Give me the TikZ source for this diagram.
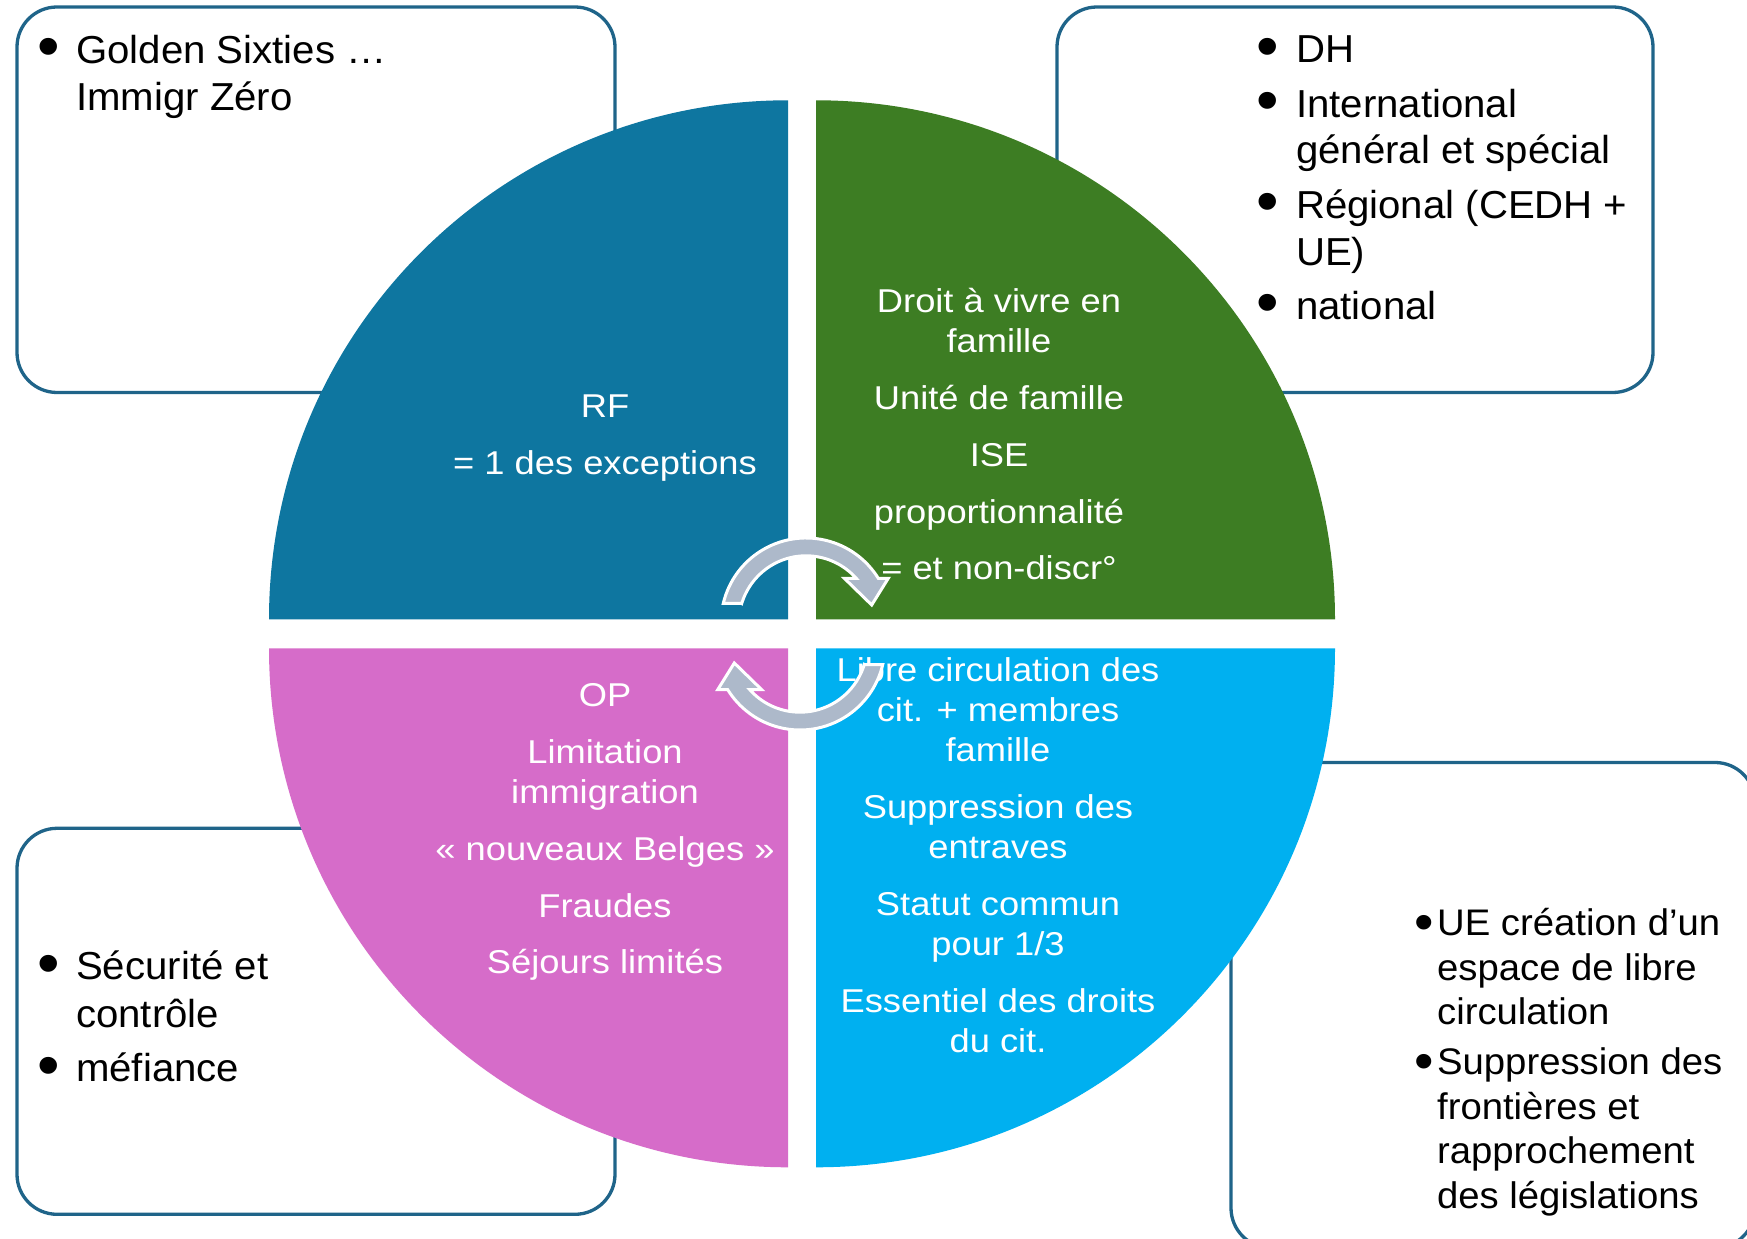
\documentclass[tikz,border=0pt]{standalone}
\usepackage{fontspec}
\usepackage{graphicx}
\setmainfont{Liberation Sans}
\newfontfamily\narrowf[FakeStretch=1.03]{Liberation Sans}
\newfontfamily\regf[FakeStretch=1.035]{Liberation Sans}
\newfontfamily\quadf[FakeStretch=1.10]{Liberation Sans}
\definecolor{boxline}{RGB}{31,100,137}
\definecolor{qblue}{RGB}{14,118,160}
\definecolor{qgreen}{RGB}{61,125,35}
\definecolor{qpink}{RGB}{214,108,201}
\definecolor{qcyan}{RGB}{0,176,240}
\definecolor{arrgray}{RGB}{173,185,202}
\newlength\bw
\def\curbul{•}
\newcommand\bulA{\smash{\raisebox{-2.2pt}{\scalebox{1.6}{•}}}}
\newcommand\bulB{\smash{\raisebox{-2.3pt}{\scalebox{1.45}{•}}}}
\newcommand\bi{\hbox to\bw{\hbox to 0pt{\hss\curbul\hss}\hss}}
\newcommand\ci{\hbox to\bw{\hss}}
\newcommand\ig{\noalign{\vskip3.8pt}}
\newcommand\igb{\noalign{\vskip2.75pt}}
\newcommand\pg{\noalign{\vskip8.4pt}}
\newcommand\blist[2]{\vtop{#1\halign{##\hfil\cr#2\crcr}}}
\newcommand\qtext[1]{\vtop{\fontsize{16.5pt}{20pt}\quadf\halign{\hfil##\hfil\cr#1\crcr}}}
\begin{document}
\begin{tikzpicture}[x=0.5pt,y=0.5pt,
  infobox/.style={draw=boxline,line width=1.65pt,fill=white,rounded corners=20pt},
  circarrow/.style={fill=arrgray,draw=white,line width=1.5pt,line join=miter},
  qlabel/.style={anchor=base,inner sep=0pt,text=white},
  blabel/.style={anchor=base west,inner sep=0pt,text=black}]
\useasboundingbox (0,0) rectangle (1747,1238);
\fill[white] (0,0) rectangle (1747,1238);
% side boxes
\draw[infobox] (17,845.5) rectangle (615,1231);
\draw[infobox] (1057,845.5) rectangle (1653,1231);
\draw[infobox] (17,23.7) rectangle (615,409.7);
\draw[infobox] (1231,-10) rectangle (1755,475.5);
% quadrants
\fill[qblue] (788,618.7) -- ++(-519,0) arc[start angle=180,end angle=90,radius=259.5pt] -- cycle;
\fill[qgreen] (816,618.7) -- ++(0,519) arc[start angle=90,end angle=0,radius=259.5pt] -- cycle;
\fill[qpink] (788,589.7) -- ++(-519,0) arc[start angle=180,end angle=270,radius=259.5pt] -- cycle;
\fill[qcyan] (816,589.7) -- ++(519,0) arc[start angle=0,end angle=-90,radius=259.5pt] -- cycle;
% quadrant texts
\node[qlabel] (qtl) at (605,820) {\qtext{RF\cr\pg = 1 des exceptions}};
\node[qlabel] (qtr) at (999,925.3) {\qtext{Droit à vivre en\cr famille\cr\pg Unité de famille\cr\pg ISE\cr\pg proportionnalité\cr\pg = et non-discr°}};
\node[qlabel] (qbl) at (605,531.3) {\qtext{OP\cr\pg Limitation\cr immigration\cr\pg « nouveaux Belges »\cr\pg Fraudes\cr\pg Séjours limités}};
\node[qlabel] (qbr) at (998,556) {\qtext{Libre circulation des\cr cit. + membres\cr famille\cr\pg Suppression des\cr entraves\cr\pg Statut commun\cr pour 1/3\cr\pg Essentiel des droits\cr du cit.}};
% circular arrows
\draw[circarrow] (741.7,634.7) -- (723.3,634.7) arc[start angle=166.6,end angle=31.7,radius=42.5pt]
  -- (888.3,659.7) -- (871.7,633) -- (844.3,659.7) -- (856.2,659.7)
  arc[start angle=41.7,end angle=163,radius=33.6pt] -- cycle;
\begin{scope}[rotate around={180:(803,604)}]
\draw[circarrow] (741.7,634.7) -- (723.3,634.7) arc[start angle=166.6,end angle=31.7,radius=42.5pt]
  -- (888.3,659.7) -- (871.7,633) -- (844.3,659.7) -- (856.2,659.7)
  arc[start angle=41.7,end angle=163,radius=33.6pt] -- cycle;
\end{scope}
% box texts
\node[blabel] (ttl) at (48.5,1174.5) {\setlength\bw{13.65pt}\let\curbul\bulA\blist{\fontsize{19.5pt}{23.6pt}\narrowf}{\bi Golden Sixties …\cr\ci Immigr Zéro}};
\node[blabel] (ttr) at (1267.8,1175.3) {\setlength\bw{13.9pt}\let\curbul\bulA\blist{\fontsize{19.5pt}{23.4pt}\narrowf}{\bi DH\cr\ig\bi International\cr\ci général et spécial\cr\ig\bi Régional (CEDH +\cr\ci UE)\cr\ig\bi national}};
\node[blabel] (tbl) at (48.5,258) {\setlength\bw{13.65pt}\let\curbul\bulA\blist{\fontsize{19.5pt}{23.6pt}\narrowf}{\bi Sécurité et\cr\ci contrôle\cr\ig\bi méfiance}};
\node[blabel] (tbr) at (1424,302) {\setlength\bw{6.35pt}\let\curbul\bulB\blist{\fontsize{18.5pt}{22.25pt}\regf}{\bi UE création d’un\cr\ci espace de libre\cr\ci circulation\cr\igb\bi Suppression des\cr\ci frontières et\cr\ci rapprochement\cr\ci des législations}};
\end{tikzpicture}
\end{document}
